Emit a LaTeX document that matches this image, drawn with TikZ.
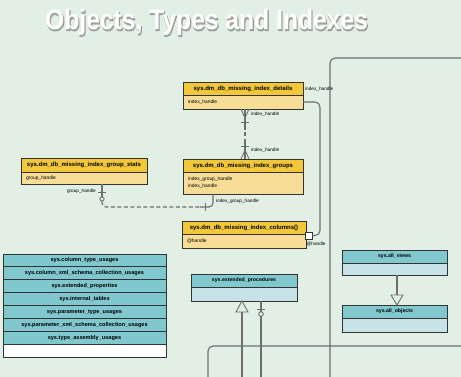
\documentclass[tikz,border=0pt]{standalone}
\usepackage{fontspec}
\setmainfont{Liberation Sans}
\definecolor{bg}{HTML}{E2EFE5}
\definecolor{yhd}{HTML}{F2C83A}
\definecolor{ybd}{HTML}{F8DD96}
\definecolor{bhd}{HTML}{80C7CE}
\definecolor{bbd}{HTML}{C7E3E8}
\definecolor{boxline}{HTML}{333333}
\definecolor{lnc}{HTML}{6E6E6E}
\begin{document}
\begin{tikzpicture}[x=1pt,y=-1pt,
  box/.style={draw=boxline, line width=0.9pt, anchor=north west, inner sep=0pt, outer sep=0pt},
  yhead/.style={box, fill=yhd, font=\fontsize{6}{7}\selectfont\bfseries},
  ybody/.style={box, fill=ybd, font=\fontsize{4.9}{6.6}\selectfont, align=left, inner xsep=5pt},
  bhead/.style={box, fill=bhd, font=\fontsize{6}{7}\selectfont\bfseries},
  bbody/.style={box, fill=bbd},
  conn/.style={draw=lnc, line width=1.1pt},
  dsh/.style={dash pattern=on 4pt off 2.5pt},
  lbl/.style={font=\fontsize{4.7}{5}\selectfont, inner sep=0pt, anchor=west},
  ttl/.style={font=\fontsize{28}{30}\selectfont\bfseries, inner sep=0pt, anchor=base west},
]
\fill[bg] (0,0) rectangle (461,377);
\useasboundingbox (0,0) rectangle (461,377);
\clip (0,0) rectangle (461,377);

% title with soft shadow
\node[ttl, text=black!60, opacity=0.45] (tsh) at (45.8,30.8) {\addfontfeature{FakeBold=3}\scalebox{0.88}[1]{Objects, Types and Indexes}};
\node[ttl, text=white] (title) at (45,30) {\scalebox{0.88}[1]{Objects, Types and Indexes}};

% big frames
\draw[conn, rounded corners=5] (330,380) -- (330,58) -- (465,58);
\draw[conn, rounded corners=5] (208,380) -- (208,346) -- (465,346);

% details
\node[yhead, minimum width=120, minimum height=13] (det) at (183,82) {sys.dm\_db\_missing\_index\_details};
\node[ybody, text width=110pt, minimum height=14] (detb) at (183,95) {index\_handle};
% groups
\node[yhead, minimum width=120, minimum height=13] (grp) at (183,159) {sys.dm\_db\_missing\_index\_groups};
\node[ybody, text width=110pt, minimum height=22] (grpb) at (183,172) {index\_group\_handle\\index\_handle};
% group stats
\node[yhead, minimum width=126, minimum height=14] (gst) at (21,158) {sys.dm\_db\_missing\_index\_group\_stats};
\node[ybody, text width=116pt, minimum height=12] (gstb) at (21,172) {group\_handle};
% columns
\node[yhead, minimum width=124, minimum height=13] (col) at (182,221) {sys.dm\_db\_missing\_index\_columns()};
\node[ybody, text width=114pt, minimum height=14] (colb) at (182,234) {@handle};
\node[draw=boxline, line width=0.8pt, fill=white, minimum size=7, inner sep=0pt] (sq) at (308.5,235.5) {};

% extended procedures
\node[bhead, minimum width=106, minimum height=13, font=\fontsize{5.2}{6}\selectfont\bfseries] (ext) at (191,274) {sys.extended\_procedures};
\node[bbody, minimum width=106, minimum height=14] (extb) at (191,287) {};
% all views / all objects
\node[bhead, minimum width=105, minimum height=13, font=\fontsize{5.2}{6}\selectfont\bfseries] (av) at (342,250) {sys.all\_views};
\node[bbody, minimum width=105, minimum height=12] (avb) at (342,263) {};
\node[bhead, minimum width=105, minimum height=13, font=\fontsize{5.2}{6}\selectfont\bfseries] (ao) at (342,305) {sys.all\_objects};
\node[bbody, minimum width=105, minimum height=14] (aob) at (342,318) {};

% stack
\foreach \t [count=\i] in {sys.column\_type\_usages,sys.column\_xml\_schema\_collection\_usages,sys.extended\_properties,sys.internal\_tables,sys.parameter\_type\_usages,sys.parameter\_xml\_schema\_collection\_usages,sys.type\_assembly\_usages}{
  \node[bhead, minimum width=163, minimum height=12.875, font=\fontsize{5.6}{6}\selectfont\bfseries] (s\i) at (3,{254+(\i-1)*12.875}) {\t};
}
\node[box, fill=white, minimum width=163, minimum height=12.875] (s8) at (3,{254+7*12.875}) {};

% details -> groups
\coordinate (dA) at (245,109);
\coordinate (gA) at (245,159);
\draw[conn] (dA) -- (245,126);
\draw[conn, dsh] (245,126) -- (245,142);
\draw[conn] (245,142) -- (gA);
\draw[conn, line width=0.9pt] (241,109) -- (245,118) -- (249,109);
\draw[conn, line width=0.9pt] (241,122) -- (249,122);
\draw[conn, line width=0.9pt] (241,159) -- (245,150) -- (249,159);
\draw[conn, line width=0.9pt] (241,146) -- (249,146);
\node[lbl] (l1) at (251,114) {index\_handle};
\node[lbl] (l2) at (251,150) {index\_handle};
\node[lbl] (l3) at (305,89) {index\_handle};

% details -> columns
\coordinate (cR) at (320,235.5);
\draw[conn, rounded corners=5] (detb.east) -| (cR) -- (sq.east);
\node[lbl] (l4) at (306.5,244) {@handle};

% group stats -> groups
\coordinate (gsA) at (102,184);
\coordinate (grA) at (213,194);
\draw[conn] (gsA) -- (102,196.8);
\draw[conn, line width=0.9pt] (98,192.7) -- (106,192.7);
\draw[conn, line width=0.9pt, fill=bg] (102,199) circle (2.1);
\draw[conn, dsh, rounded corners=4] (102,201.1) |- (200,207);
\draw[conn, rounded corners=4] (200,207) -| (grA);
\draw[conn, line width=0.9pt] (205,203) -- (205,211);
\node[lbl, anchor=east] (l5) at (96,191.5) {group\_handle};
\node[lbl] (l6) at (216,201) {index\_group\_handle};

% extended procedures connectors
\coordinate (eT) at (242,301);
\coordinate (eC) at (261,301);
\draw[conn, fill=bg, line width=0.9pt] (eT) -- (236,312) -- (248,312) -- cycle;
\draw[conn] (242,312) -- (242,380);
\draw[conn] (eC) -- (261,311.5);
\draw[conn, line width=0.9pt] (257,309) -- (265,309);
\draw[conn, line width=0.9pt, fill=bg] (261,314) circle (2.3);
\draw[conn] (261,316.3) -- (261,380);

% all views -> all objects
\coordinate (avA) at (397,275);
\coordinate (aoA) at (397,305);
\draw[conn] (avA) -- (397,295);
\draw[conn, fill=bg, line width=0.9pt] (aoA) -- (391,295) -- (403,295) -- cycle;
\end{tikzpicture}
\end{document}
